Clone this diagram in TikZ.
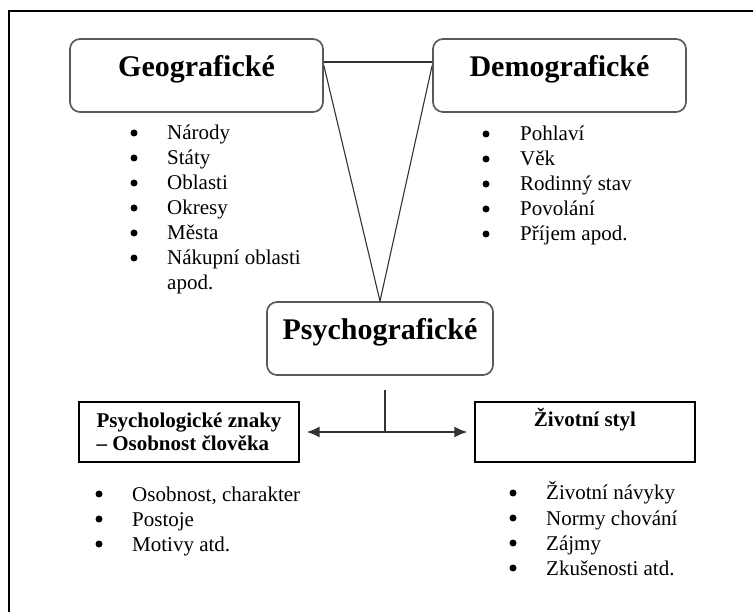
\documentclass[tikz,border=0pt]{standalone}
\usepackage{fontspec}
\setmainfont{Liberation Serif}
\usetikzlibrary{positioning,arrows.meta}

\tikzset{
  rbox/.style={draw=black!65, line width=1.7pt, rounded corners=10pt, inner sep=0pt,
    minimum width=253pt, text height=38pt, text depth=35pt,
    font=\fontsize{30}{34}\selectfont\bfseries},
  sqbox/.style={draw=black, line width=1.4pt, inner sep=0pt,
    minimum width=220pt, minimum height=60pt,
    font=\fontsize{21}{23}\selectfont\bfseries},
  bul/.style={circle, fill=black, inner sep=0pt, minimum size=7pt},
  listtext/.style={anchor=base west, inner sep=0pt, font=\fontsize{21}{25}\selectfont},
  link/.style={draw=black!80, line width=1.1pt},
}

\begin{document}
\begin{tikzpicture}[x=1pt,y=-1pt]
  \useasboundingbox (0,0) rectangle (753,612);

  % frame
  \draw[line width=2pt] (753,11) -- (9,11) -- (9,612);

  % rounded boxes
  \node[rbox, anchor=base] (geo) at (196.5,77) {Geografické};
  \node[rbox, anchor=base] (demo) at (559.5,77) {Demografické};
  \node[rbox, anchor=base, minimum width=226pt] (psy) at (380,340) {Psychografické};

  % square boxes
  \node[sqbox, align=left] (pz) at (189,432) {Psychologické znaky\\– Osobnost člověka};
  \node[sqbox, anchor=base, minimum height=0pt, text height=25pt, text depth=35pt] (zs) at (585,427) {Životní styl};

  % connectors
  \draw[link] ([yshift=13.5pt]geo.east) -- ([yshift=13.5pt]demo.west);
  \draw[link] ([yshift=10pt]geo.east) -- (psy.north);
  \draw[link] ([yshift=10pt]demo.west) -- (psy.north);
  \coordinate (fork) at (385,390);
  \draw[link] (fork) -- (fork |- pz.east);
  \draw[link, line width=1.5pt, {Latex[length=13pt,width=11pt]}-{Latex[length=13pt,width=11pt]}]
    ([xshift=7pt]pz.east) -- ([xshift=-7pt]zs.west);

  % lists
  \foreach \txt [count=\i] in {Národy,Státy,Oblasti,Okresy,Města,Nákupní oblasti}{
    \node[bul] (geo-b\i) at (134,{108+25*\i}) {};
    \node[listtext] (geo-\i) at (167,{115+25*\i}) {\txt};
  }
  \node[listtext] (geo-7) at (167,290) {apod.};

  \foreach \txt [count=\i] in {Pohlaví,Věk,Rodinný stav,Povolání,Příjem  apod.}{
    \node[bul] (demo-b\i) at (486,{109+25*\i}) {};
    \node[listtext] (demo-\i) at (520,{116+25*\i}) {\txt};
  }

  \foreach \txt [count=\i] in {{Osobnost, charakter},Postoje,Motivy atd.}{
    \node[bul] (pz-b\i) at (99,{469+25*\i}) {};
    \node[listtext] (pz-\i) at (132,{476+25*\i}) {\txt};
  }

  \foreach \txt [count=\i] in {Životní návyky,Normy chování,Zájmy,Zkušenosti atd.}{
    \node[bul] (zs-b\i) at (513,{468+25*\i}) {};
    \node[listtext] (zs-\i) at (546,{475+25*\i}) {\txt};
  }
\end{tikzpicture}
\end{document}
